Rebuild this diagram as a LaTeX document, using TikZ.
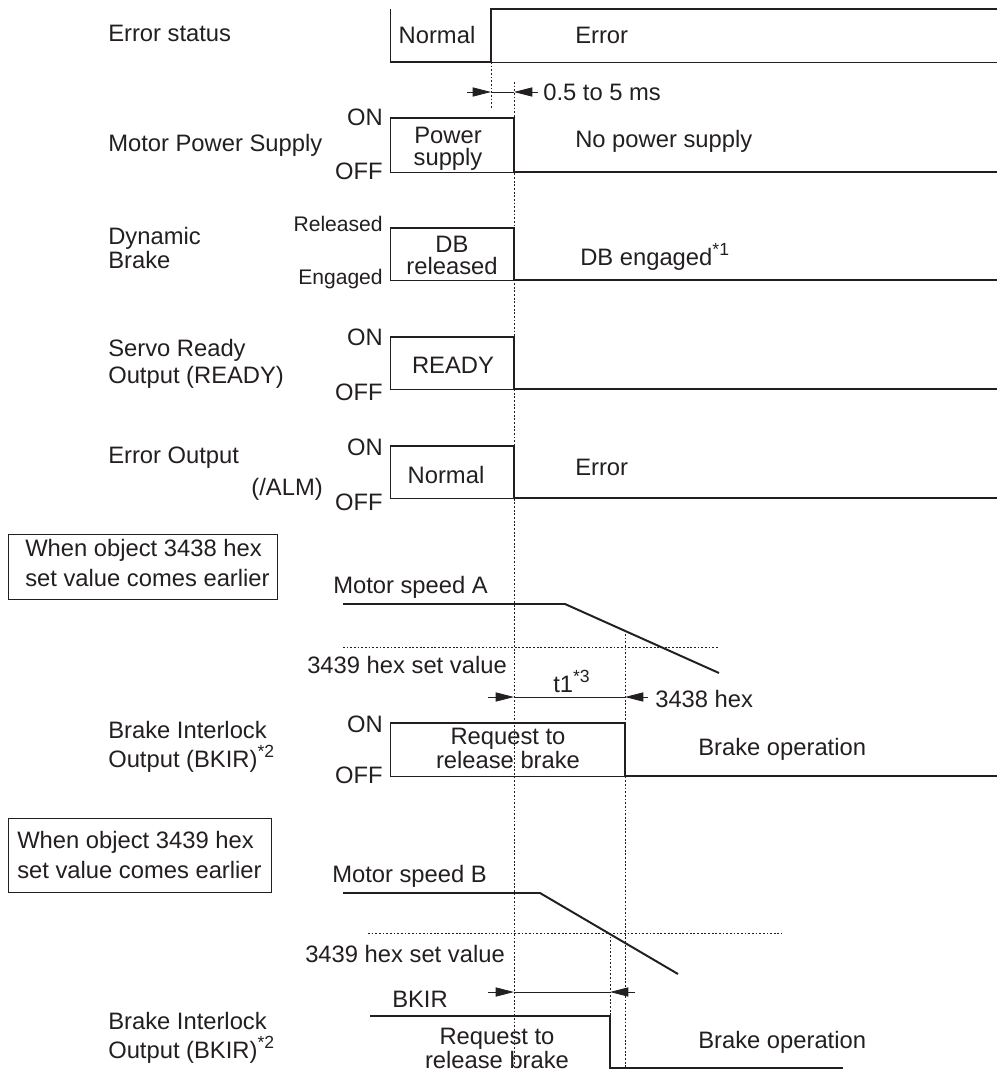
\documentclass[tikz,border=0pt]{standalone}
\usepackage{fontspec}
\setmainfont{Liberation Sans}
\usepackage{tikz}
\usetikzlibrary{arrows.meta}
\usetikzlibrary{positioning}

\definecolor{ink}{RGB}{35,31,32}
\newcommand\starnote[1]{\raisebox{7pt}{\fontsize{12.5}{13}\selectfont *#1}}

\tikzset{
    sigline/.style={ink, line width=1.4pt, line join=miter},
    refline/.style={ink, line width=0.6pt},
    guideline/.style={ink, line width=0.6pt, dash pattern=on 1.3pt off 1.3pt},
    dimarrow/.style={ink, line width=0.6pt, -{Triangle[length=13pt,width=6.5pt]}},
    lbl/.style={ink, inner sep=0pt, font=\fontsize{16.9}{18}\selectfont},
    lvl/.style={lbl, anchor=base east},
    lvlsmall/.style={lvl, font=\fontsize{15}{16}\selectfont},
    twoline/.style={lbl, align=center, font=\fontsize{16.9}{15.6}\selectfont},
    twolinewide/.style={lbl, align=left, font=\fontsize{16.9}{20.5}\selectfont}
}

\begin{document}
\begin{tikzpicture}[x=0.025cm,y=-0.025cm]
            \useasboundingbox (0,0) rectangle (997,1071);

            \coordinate (ES1) at (390,9);
            \coordinate (ES2) at (390,62);
            \coordinate (ES3) at (491,62);
            \coordinate (ES4) at (491,9);
            \coordinate (ES5) at (997,9);
            \coordinate (ES6) at (997,62);

            \coordinate (MP0) at (390,172);
            \coordinate (MP1) at (390,118);
            \coordinate (MP2) at (514,118);
            \coordinate (MP3) at (514,172);
            \coordinate (MP4) at (997,172);

            \coordinate (DB0) at (390,280);
            \coordinate (DB1) at (390,228);
            \coordinate (DB2) at (514,228);
            \coordinate (DB3) at (514,280);
            \coordinate (DB4) at (997,280);

            \coordinate (RD0) at (390,389);
            \coordinate (RD1) at (390,337);
            \coordinate (RD2) at (514,337);
            \coordinate (RD3) at (514,389);
            \coordinate (RD4) at (997,389);

            \coordinate (AL0) at (390,498);
            \coordinate (AL1) at (390,446);
            \coordinate (AL2) at (514,446);
            \coordinate (AL3) at (514,498);
            \coordinate (AL4) at (997,498);

            \coordinate (BA0) at (390,776);
            \coordinate (BA1) at (390,723);
            \coordinate (BA2) at (625,723);
            \coordinate (BA3) at (625,776);
            \coordinate (BA4) at (997,776);

            \coordinate (BB1) at (370,1016);
            \coordinate (BB2) at (610,1016);
            \coordinate (BB3) at (610,1068);
            \coordinate (BB4) at (843,1068);

            \coordinate (SA1) at (343,604);
            \coordinate (SA2) at (565,604);
            \coordinate (SA3) at (719,673);
            \coordinate (SB1) at (343,893);
            \coordinate (SB2) at (540,893);
            \coordinate (SB3) at (678,974);

            \draw[refline] (ES1)--(ES2) (ES3)--(ES6)--(ES5);
            \draw[sigline] (ES2)--(ES3)--(ES4)--(ES5);

            \draw[refline] (MP1)--(MP0)--(MP3);
            \draw[sigline] (MP1)--(MP2)--(MP3)--(MP4);
            \draw[refline] (DB1)--(DB0)--(DB3);
            \draw[sigline] (DB1)--(DB2)--(DB3)--(DB4);
            \draw[refline] (RD1)--(RD0)--(RD3);
            \draw[sigline] (RD1)--(RD2)--(RD3)--(RD4);
            \draw[refline] (AL1)--(AL0)--(AL3);
            \draw[sigline] (AL1)--(AL2)--(AL3)--(AL4);
            \draw[refline] (BA1)--(BA0)--(BA3);
            \draw[sigline] (BA1)--(BA2)--(BA3)--(BA4);
            \draw[sigline] (BB1)--(BB2)--(BB3)--(BB4);

            \draw[sigline] (SA1)--(SA2)--(SA3);
            \draw[sigline] (SB1)--(SB2)--(SB3);

            \coordinate (GA) at (491,108);
            \coordinate (GB0) at (514,82);
            \coordinate (GB1) at (514,1068);
            \coordinate (GC0) at (625,634);
            \coordinate (GC1) at (625,1068);
            \coordinate (GD0) at (610,933);
            \coordinate (GD1) at (610,1068);
            \coordinate (HA0) at (343,647);
            \coordinate (HA1) at (719,647);
            \coordinate (HB0) at (368,933);
            \coordinate (HB1) at (782,933);

            \draw[guideline] (ES3)--(GA);
            \draw[guideline] (GB0)--(GB1);
            \draw[guideline] (GC0)--(GC1);
            \draw[guideline] (GD0)--(GD1);
            \draw[guideline] (HA0)--(HA1);
            \draw[guideline] (HB0)--(HB1);

            \coordinate (T1) at (467,92);
            \coordinate (T2) at (491,92);
            \coordinate (T3) at (514,92);
            \coordinate (T4) at (538,92);
            \draw[dimarrow] (T1)--(T2);
            \draw[dimarrow] (T4)--(T3);
            \draw[refline] (T2)--(T3);

            \coordinate (U1) at (488,697);
            \coordinate (U2) at (514,697);
            \coordinate (U3) at (625,697);
            \coordinate (U4) at (648,697);
            \draw[dimarrow] (U1)--(U2);
            \draw[dimarrow] (U4)--(U3);
            \draw[refline] (U2)--(U3);

            \coordinate (V1) at (488,992);
            \coordinate (V2) at (514,992);
            \coordinate (V3) at (610,992);
            \coordinate (V4) at (635,992);
            \draw[dimarrow] (V1)--(V2);
            \draw[dimarrow] (V4)--(V3);
            \draw[refline] (V2)--(V3);

            \coordinate (K1a) at (8,534);
            \coordinate (K1b) at (277,599);
            \coordinate (K2a) at (8,818);
            \coordinate (K2b) at (271,892);
            \draw[refline] (K1a) rectangle (K1b);
            \draw[refline] (K2a) rectangle (K2b);

            \node[lbl, anchor=base west] (errstat) at (108,42) {Error status};
            \node[lbl, anchor=base west] (motpow) at (108,151) {Motor Power Supply};
            \node[lbl, anchor=base west, align=left, font=\fontsize{16.9}{15}\selectfont] (dynbrk) at (108,268) {Dynamic\\Brake};
            \node[lbl, anchor=base west, align=left, font=\fontsize{16.9}{18.5}\selectfont] (srvrdy) at (108,383) {Servo Ready\\Output (READY)};
            \node[lbl, anchor=base west] (errout) at (108,463) {Error Output};
            \node[lbl, anchor=base east] (alm) at (323,495) {(/ALM)};
            \node[twolinewide, anchor=base west] (bkira) at (108,767) {Brake Interlock\\Output (BKIR)\starnote{2}};
            \node[twolinewide, anchor=base west] (bkirb) at (108,1058) {Brake Interlock\\Output (BKIR)\starnote{2}};

            \node[twolinewide, anchor=base west, font=\fontsize{16.9}{21}\selectfont] (whena) at (25,586) {When object 3438 hex\\set value comes earlier};
            \node[twolinewide, anchor=base west, font=\fontsize{16.9}{21}\selectfont] (whenb) at (17,878) {When object 3439 hex\\set value comes earlier};

            \node[lvl] (mpon) at (383,126) {ON};
            \node[lvl] (mpoff) at (383,179) {OFF};
            \node[lvlsmall] (dbrel) at (383,231) {Released};
            \node[lvlsmall] (dbeng) at (383,284) {Engaged};
            \node[lvl] (rdon) at (383,345) {ON};
            \node[lvl] (rdoff) at (383,400) {OFF};
            \node[lvl] (alon) at (383,455) {ON};
            \node[lvl] (aloff) at (383,510) {OFF};
            \node[lvl] (baon) at (383,732) {ON};
            \node[lvl] (baoff) at (383,783) {OFF};

            \node[lbl, anchor=base] (esnorm) at (437,44) {Normal};
            \node[lbl, anchor=base west] (eserr) at (575,44) {Error};
            \node[lbl, anchor=base west] (delay) at (543,100) {0.5 to 5 ms};
            \node[twoline, anchor=base] (mpsup) at (448,165) {Power\\supply};
            \node[lbl, anchor=base west] (mpnone) at (575,147) {No power supply};
            \node[twoline, anchor=base] (dbrls) at (452,274) {DB\\released};
            \node[lbl, anchor=base west] (dbengd) at (580,265) {DB engaged\starnote{1}};
            \node[lbl, anchor=base] (rdtxt) at (453,373) {READY};
            \node[lbl, anchor=base] (alnorm) at (446,483) {Normal};
            \node[lbl, anchor=base west] (alerr) at (575,475) {Error};

            \node[lbl, anchor=base west] (speeda) at (333,593) {Motor speed A};
            \node[lbl, anchor=base west] (seta) at (307,673) {3439 hex set value};
            \node[lbl, anchor=base west] (tone) at (553,692) {t1\starnote{3}};
            \node[lbl, anchor=base west] (hexa) at (655,707) {3438 hex};
            \node[twoline, anchor=base] (reqa) at (508,768) {Request to\\release brake};
            \node[lbl, anchor=base west] (opa) at (698,755) {Brake operation};

            \node[lbl, anchor=base west] (speedb) at (332,882) {Motor speed B};
            \node[lbl, anchor=base west] (setb) at (305,962) {3439 hex set value};
            \node[lbl, anchor=base west] (bkirtxt) at (392,1007) {BKIR};
            \node[twoline, anchor=base] (reqb) at (497,1068) {Request to\\release brake};
            \node[lbl, anchor=base west] (opb) at (698,1048) {Brake operation};
\end{tikzpicture}
\end{document}
